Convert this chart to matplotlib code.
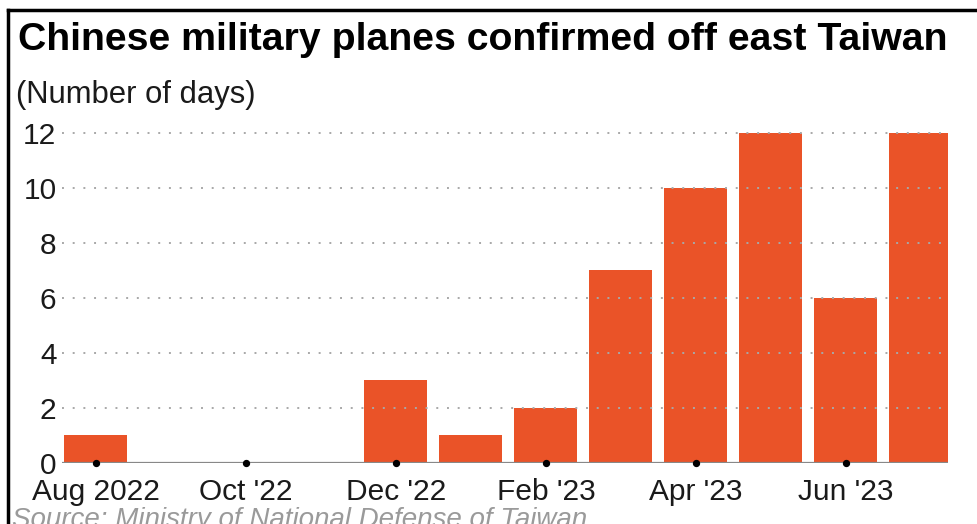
import matplotlib.pyplot as plt
from matplotlib.lines import Line2D

# data
months = ["Aug 2022", "Sep '22", "Oct '22", "Nov '22", "Dec '22", "Jan '23",
          "Feb '23", "Mar '23", "Apr '23", "May '23", "Jun '23", "Jul '23"]
days = [1, 0, 0, 0, 3, 1, 2, 7, 10, 12, 6, 12]
yticks = [0, 2, 4, 6, 8, 10, 12]

plt.rcParams['font.family'] = ['Liberation Sans', 'DejaVu Sans']

W, H = 978, 524
fig = plt.figure(figsize=(W / 100, H / 100), dpi=100)
ax = fig.add_axes([62 / W, 1 - 463 / H, 886 / W, (463 - 131.6) / H])

x = list(range(len(months)))
ax.bar(x, days, width=0.84, color="#EA5328", zorder=2)

# dotted grid drawn over bars
ax.set_yticks(yticks)
ax.set_ylim(0, 12.05)
ax.set_xlim(-0.45, 11.36)
for v in yticks[1:]:
    ax.axhline(v, color="#a8a8a8", lw=1.4, ls=(0, (1, 4.5)), zorder=3)
ax.axhline(0, color="#888888", lw=1.6, zorder=4)

# x ticks every two months, shown as dots on the baseline
tick_idx = x[::2]
ax.set_xticks(tick_idx)
ax.set_xticklabels([months[i] for i in tick_idx])
ax.scatter(tick_idx, [0] * len(tick_idx), s=18, color="black", zorder=5, clip_on=False)

ax.tick_params(axis="both", length=0, labelsize=21.5, colors="#1a1a1a")
ax.tick_params(axis="x", pad=11)
ax.tick_params(axis="y", pad=4)
for s in ax.spines.values():
    s.set_visible(False)
ax.set_facecolor("none")

fig.text(18 / W, 1 - 40 / H, "Chinese military planes confirmed off east Taiwan",
         fontsize=28.3, fontweight="bold", va="center", ha="left", color="black")
fig.text(16 / W, 1 - 95 / H, "(Number of days)", fontsize=22.3, va="center", ha="left",
         color="#1a1a1a")
fig.text(12 / W, 1 - 507 / H, "Source: Ministry of National Defense of Taiwan",
         fontsize=20, style="italic", va="top", ha="left", color="#9a9a9a")

# screenshot frame
fig.add_artist(Line2D([8 / W, 8 / W], [0, 1 - 10 / H], color="black", lw=2.5))
fig.add_artist(Line2D([8 / W, 1], [1 - 10 / H, 1 - 10 / H], color="black", lw=2.5))

fig.savefig("out.png", dpi=100)
